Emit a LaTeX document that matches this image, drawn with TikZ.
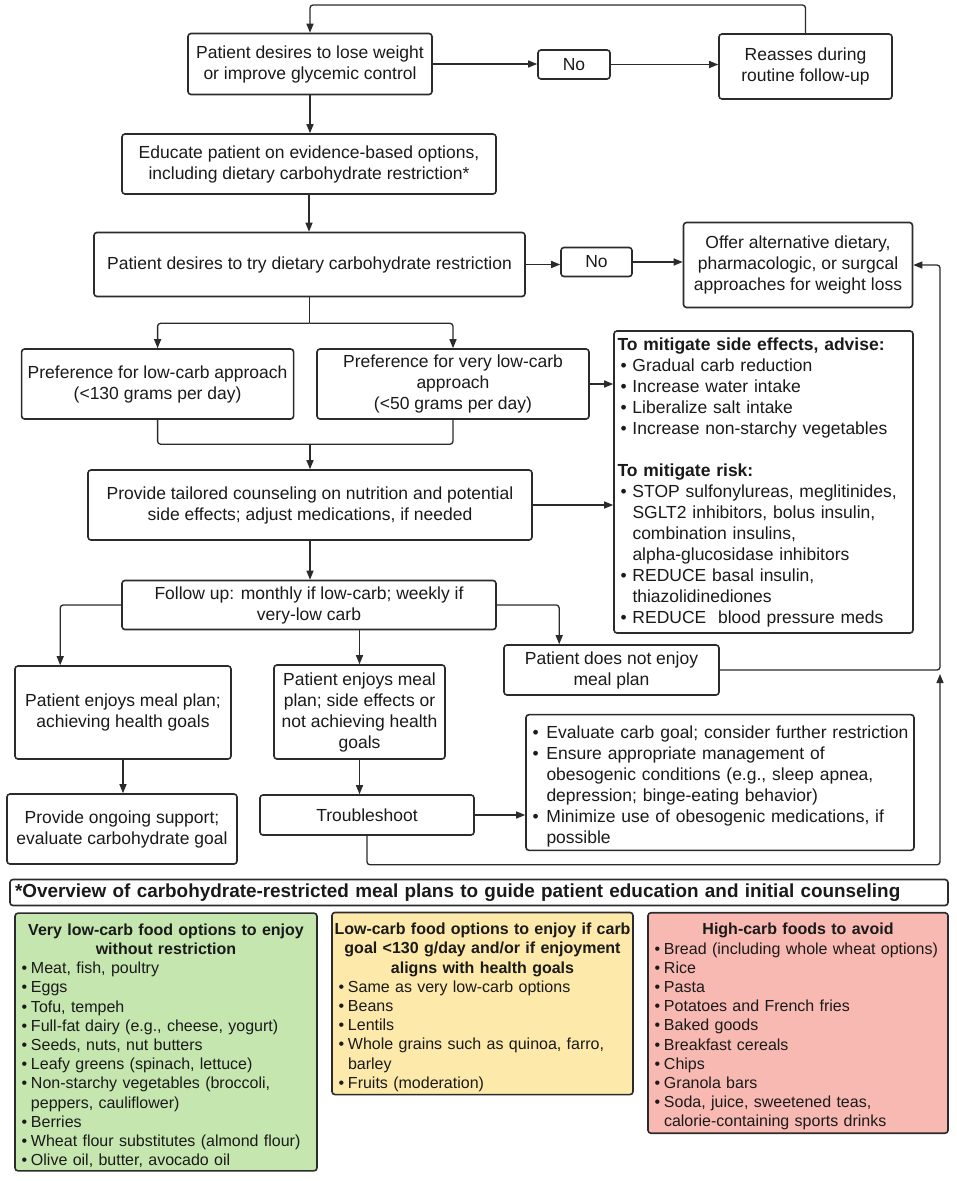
\documentclass[tikz,border=0pt]{standalone}
\usepackage{fontspec}
\setmainfont{Liberation Sans}
\usetikzlibrary{arrows.meta,calc}
\definecolor{lc}{HTML}{2B2B2B}
\definecolor{txt}{HTML}{1A1A1A}
\definecolor{gfill}{HTML}{C6E6B0}
\definecolor{yfill}{HTML}{FDE9A9}
\definecolor{rfill}{HTML}{F8B9B2}
\setlength\parskip{0pt}
\newcommand\fmain{\fontsize{17.5}{21}\selectfont}
\newcommand\fsmall{\fontsize{16}{19.2}\selectfont}
\newcommand\fhdr{\fontsize{18.9}{21}\selectfont\bfseries}
\newlength\bw
\newcommand\bitem[1]{\par\hangindent=\bw\hangafter=1\noindent\makebox[\bw][l]{\hspace{3pt}\textbullet}#1}
\newcommand\tline[1]{\par\noindent\makebox[\linewidth][c]{\bfseries #1}}
\begin{document}
\begin{tikzpicture}[x=1pt,y=-1pt,
  box/.style={draw=lc, line width=1.6pt, rounded corners=3pt, fill=white, align=center, inner sep=2pt, text=txt, font=\fmain},
  sz/.style 2 args={minimum width=#1pt, minimum height=#2pt},
  arr/.style={draw=lc, line width=1.3pt, rounded corners=3pt, -{Triangle[length=9pt,width=7pt]}},
  ln/.style={draw=lc, line width=1.3pt, rounded corners=3pt},
  lst/.style={align=left, inner sep=3pt}
]
\useasboundingbox (0,0) rectangle (957,1181);

% top flow
\node[box,sz={244}{61}] (b1) at (310,64) {Patient desires to lose weight\\or improve glycemic control};
\node[box,sz={72}{29}] (no1) at (574,64.5) {No};
\node[box,sz={173}{65}] (reas) at (805.5,66.5) {Reasses during\\routine follow-up};
\node[box,sz={374}{60}] (b2) at (309,164) {Educate patient on evidence-based options,\\including dietary carbohydrate restriction*};
\node[box,sz={431}{64}] (b3) at (309.5,264.5) {Patient desires to try dietary carbohydrate restriction};
\node[box,sz={71}{29}] (no2) at (596.5,262) {No};
\node[box,sz={229}{85}] (offer) at (798,265) {Offer alternative dietary,\\pharmacologic, or surgcal\\approaches for weight loss};
\node[box,sz={272}{70}] (b4) at (157.6,384) {Preference for low-carb approach\\(<130 grams per day)};
\node[box,sz={272}{70}] (b5) at (453,384) {Preference for very low-carb\\approach\\(<50 grams per day)};

\setlength\bw{15pt}
\node[box,lst,sz={299}{302},text width=292pt] (se) at (763.5,482) {%
\textbf{To mitigate side effects, advise:}
\bitem{Gradual carb reduction}
\bitem{Increase water intake}
\bitem{Liberalize salt intake}
\bitem{Increase non-starchy vegetables}
\par\mbox{}\par\noindent
\textbf{To mitigate risk:}
\bitem{STOP sulfonylureas, meglitinides,\newline SGLT2 inhibitors, bolus insulin,\newline combination insulins,\newline alpha-glucosidase inhibitors}
\bitem{REDUCE basal insulin,\newline thiazolidinediones}
\bitem{REDUCE\ \ blood pressure meds}\par};

\node[box,sz={444}{70}] (b6) at (310,505) {Provide tailored counseling on nutrition and potential\\side effects; adjust medications, if needed};
\node[box,sz={374}{49}] (b7) at (309,605) {Follow up: monthly if low-carb; weekly if\\very-low carb};
\node[box,sz={216}{93}] (b8) at (123,712.5) {Patient enjoys meal plan;\\achieving health goals};
\node[box,sz={171}{94}] (b9) at (359.5,712) {Patient enjoys meal\\plan; side effects or\\not achieving health\\goals};
\node[box,sz={215}{50}] (b10) at (611.5,670) {Patient does not enjoy\\meal plan};
\node[box,sz={230}{70}] (b11) at (122,829) {Provide ongoing support;\\evaluate carbohydrate goal};
\node[box,sz={214}{40}] (ts) at (367,815) {Troubleshoot};

\setlength\bw{17pt}
\node[box,lst,sz={388}{133},text width=381pt] (b12) at (720,782.5) {%
\bitem{Evaluate carb goal; consider further restriction}
\bitem{Ensure appropriate management of\newline obesogenic conditions (e.g., sleep apnea,\newline depression; binge-eating behavior)}
\bitem{Minimize use of obesogenic medications, if\newline possible}\par};

% overview
\node[box,sz={938}{26},text width=928pt,align=left,inner sep=3pt,font=\fhdr] (hdr) at (479,892.5) {*Overview of carbohydrate-restricted meal plans to guide patient education and initial counseling};

\setlength\bw{12.5pt}
\node[box,lst,fill=gfill,font=\fsmall,sz={302}{256},text width=295pt] (gbox) at (166,1042) {%
\tline{Very low-carb food options to enjoy}
\tline{without restriction}
\bitem{Meat, fish, poultry}
\bitem{Eggs}
\bitem{Tofu, tempeh}
\bitem{Full-fat dairy (e.g., cheese, yogurt)}
\bitem{Seeds, nuts, nut butters}
\bitem{Leafy greens (spinach, lettuce)}
\bitem{Non-starchy vegetables (broccoli,\newline peppers, cauliflower)}
\bitem{Berries}
\bitem{Wheat flour substitutes (almond flour)}
\bitem{Olive oil, butter, avocado oil}\par};

\node[box,lst,fill=yfill,font=\fsmall,sz={301}{179},text width=294pt] (ybox) at (482.5,1003.5) {%
\tline{Low-carb food options to enjoy if carb}
\tline{goal <130 g/day and/or if enjoyment}
\tline{aligns with health goals}
\bitem{Same as very low-carb options}
\bitem{Beans}
\bitem{Lentils}
\bitem{Whole grains such as quinoa, farro,\newline barley}
\bitem{Fruits (moderation)}\par};

\node[box,lst,fill=rfill,font=\fsmall,sz={300}{218},text width=293pt] (rbox) at (798,1023) {%
\tline{High-carb foods to avoid}
\bitem{Bread (including whole wheat options)}
\bitem{Rice}
\bitem{Pasta}
\bitem{Potatoes and French fries}
\bitem{Baked goods}
\bitem{Breakfast cereals}
\bitem{Chips}
\bitem{Granola bars}
\bitem{Soda, juice, sweetened teas,\newline calorie-containing sports drinks}\par};

% connectors
\coordinate (top) at (0,5);
\coordinate (rx) at (940,0);
\draw[arr] (reas.north) -- (reas.north |- top) -| (b1.north);
\draw[arr] (b1.east) -- (b1.east -| no1.west);
\draw[arr] (no1.east) -- (no1.east -| reas.west);
\draw[arr] (b1.south) -- (b1.south |- b2.north);
\draw[arr] (b2.south) -- (b2.south |- b3.north);
\draw[arr] (b3.east) -- (b3.east -| no2.west);
\draw[arr] (no2.east) -- (no2.east -| offer.west);
\coordinate (s1) at ($(b3.south)+(0,26)$);
\draw[ln] (b3.south) -- (s1);
\draw[arr] (s1) -| (b4.north);
\draw[arr] (s1) -| (b5.north);
\draw[arr] (b5.east) -- (b5.east -| se.west);
\coordinate (m1) at ($(b6.north)+(0,-25)$);
\draw[ln] (b4.south) |- (m1);
\draw[ln] (b5.south) |- (m1);
\draw[arr] (m1) -- (b6.north);
\draw[arr] (b6.east) -- (b6.east -| se.west);
\draw[arr] (b6.south) -- (b6.south |- b7.north);
\draw[arr] (b7.west) -| ([xshift=46pt]b8.north west);
\draw[arr] (b7.south -| b9.north) -- (b9.north);
\draw[arr] (b7.east) -| ([xshift=56pt]b10.north west);
\draw[arr] (b8.south) -- (b8.south |- b11.north);
\draw[arr] (b9.south) -- (b9.south |- ts.north);
\draw[arr] (ts.east) -- (ts.east -| b12.west);
\coordinate (j) at (b10.east -| rx);
\draw[arr] (b10.east) -- (j) |- (offer.east);
\draw[arr] (ts.south) -- (ts.south |- b11.south) -| ([yshift=-4pt]j);
\end{tikzpicture}
\end{document}
